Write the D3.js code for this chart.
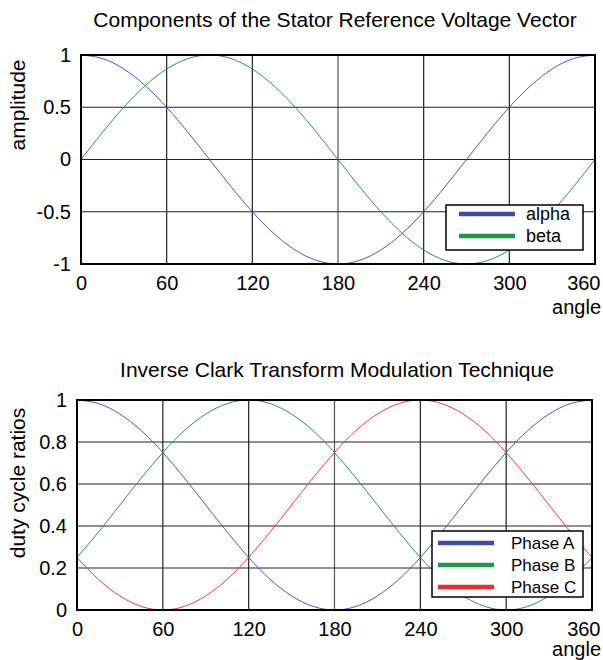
<!DOCTYPE html>
<html><head><meta charset="utf-8">
<script src="https://cdn.jsdelivr.net/npm/d3@7"></script>
<style>body{margin:0;background:#fff}svg{display:block}text{font-family:"Liberation Sans",Arial,sans-serif;fill:#000}</style>
</head><body>
<script>
const angles = [0,15,30,45,60,75,90,105,120,135,150,165,180,195,210,225,240,255,270,285,300,315,330,345,360];
const alpha = [1,0.966,0.866,0.707,0.5,0.259,0,-0.259,-0.5,-0.707,-0.866,-0.966,-1,-0.966,-0.866,-0.707,-0.5,-0.259,0,0.259,0.5,0.707,0.866,0.966,1];
const beta = [0,0.259,0.5,0.707,0.866,0.966,1,0.966,0.866,0.707,0.5,0.259,0,-0.259,-0.5,-0.707,-0.866,-0.966,-1,-0.966,-0.866,-0.707,-0.5,-0.259,0];
const phaseA = [1,0.983,0.933,0.854,0.75,0.629,0.5,0.371,0.25,0.146,0.067,0.017,0,0.017,0.067,0.146,0.25,0.371,0.5,0.629,0.75,0.854,0.933,0.983,1];
const phaseB = [0.25,0.371,0.5,0.629,0.75,0.854,0.933,0.983,1,0.983,0.933,0.854,0.75,0.629,0.5,0.371,0.25,0.146,0.067,0.017,0,0.017,0.067,0.146,0.25];
const phaseC = [0.25,0.146,0.067,0.017,0,0.017,0.067,0.146,0.25,0.371,0.5,0.629,0.75,0.854,0.933,0.983,1,0.983,0.933,0.854,0.75,0.629,0.5,0.371,0.25];
const xTicks = [0,60,120,180,240,300,360];
const yTicksTop = [-1,-0.5,0,0.5,1];
const yTicksBottom = [0,0.2,0.4,0.6,0.8,1];
const titleTop = "Components of the Stator Reference Voltage Vector";
const titleBottom = "Inverse Clark Transform Modulation Technique";
const legendTop = ["alpha","beta"];
const legendBottom = ["Phase A","Phase B","Phase C"];

const svg = d3.select("body").append("svg").attr("width",603).attr("height",660);

function panel(cfg){
  const x = d3.scaleLinear().domain([0,360]).range([cfg.left,cfg.right]);
  const y = d3.scaleLinear().domain(cfg.ydom).range([cfg.bottom,cfg.top]);
  const g = svg.append("g");
  // grid
  g.selectAll(".vg").data(xTicks.slice(1,-1)).enter().append("line")
    .attr("x1",d=>x(d)).attr("x2",d=>x(d)).attr("y1",cfg.top).attr("y2",cfg.bottom)
    .attr("stroke",d=>d===180?"#555":"#222").attr("stroke-width",1.2);
  g.selectAll(".hg").data(cfg.yticks.slice(1,-1)).enter().append("line")
    .attr("x1",cfg.left).attr("x2",cfg.right).attr("y1",d=>y(d)).attr("y2",d=>y(d))
    .attr("stroke","#222").attr("stroke-width",1.2);
  // series
  const line = d3.line().x((d,i)=>x(angles[i])).y(d=>y(d)).curve(d3.curveNatural);
  cfg.series.forEach(s=>{
    g.append("path").attr("d",line(s.values)).attr("fill","none").attr("stroke",s.color).attr("stroke-width",1);
  });
  // frame
  g.append("rect").attr("x",cfg.left).attr("y",cfg.top).attr("width",cfg.right-cfg.left).attr("height",cfg.bottom-cfg.top)
    .attr("fill","none").attr("stroke","#000").attr("stroke-width",2);
  // axes
  const ax = d3.axisBottom(x).tickValues(xTicks).tickSize(0).tickPadding(8).tickFormat(d3.format("d"));
  const xa = g.append("g").attr("transform",`translate(0,${cfg.bottom})`).call(ax);
  xa.select(".domain").remove();
  xa.selectAll("text").attr("font-size",20).attr("font-family","Liberation Sans, Arial").attr("fill","#000").attr("dy","0.9em");
  // keep last label inside the page, as in the reference
  xa.selectAll(".tick").filter(d=>d===360).select("text").attr("text-anchor","end").attr("x",600-x(360));
  const ay = d3.axisLeft(y).tickValues(cfg.yticks).tickSize(0).tickPadding(10).tickFormat(d=>String(d));
  const ya = g.append("g").attr("transform",`translate(${cfg.left},0)`).call(ay);
  ya.select(".domain").remove();
  ya.selectAll("text").attr("font-size",20).attr("font-family","Liberation Sans, Arial").attr("fill","#000");
  // title
  g.append("text").attr("x",cfg.titleX).attr("y",cfg.titleY).attr("text-anchor","middle").attr("font-size",21).text(cfg.title);
  // labels
  g.append("text").attr("x",601).attr("y",cfg.angleY).attr("text-anchor","end").attr("font-size",20).text("angle");
  g.append("text").attr("transform",`translate(25,${cfg.ylabelY}) rotate(-90)`).attr("text-anchor","middle").attr("font-size",21).text(cfg.ylabel);
  // legend
  const L = cfg.legend;
  g.append("rect").attr("x",L.x).attr("y",L.y).attr("width",L.w).attr("height",L.h).attr("fill","#fff").attr("stroke","#000").attr("stroke-width",1.5);
  L.items.forEach((name,i)=>{
    const yy = L.y0 + i*L.dy;
    g.append("line").attr("x1",L.lx1).attr("x2",L.lx2).attr("y1",yy).attr("y2",yy).attr("stroke",L.colors[i]).attr("stroke-width",4.5);
    g.append("text").attr("x",L.tx).attr("y",yy).attr("dy","0.35em").attr("font-size",L.fs).text(name);
  });
}

panel({left:81,right:595,top:55,bottom:264,ydom:[-1,1],yticks:yTicksTop,
  series:[{values:alpha,color:"#3d5cc4"},{values:beta,color:"#2a9648"}],
  title:titleTop,titleX:335,titleY:27,angleY:314,ylabel:"amplitude",ylabelY:105,
  legend:{x:446,y:205,w:137,h:45,lx1:459,lx2:515,y0:214,dy:22,tx:526,fs:18,items:legendTop,colors:["#3a4ea4","#20984a"]}});

panel({left:77,right:592,top:400,bottom:610,ydom:[0,1],yticks:yTicksBottom,
  series:[{values:phaseA,color:"#3d5cc4"},{values:phaseB,color:"#2a9648"},{values:phaseC,color:"#f03a3a"}],
  title:titleBottom,titleX:337,titleY:377,angleY:656,ylabel:"duty cycle ratios",ylabelY:483,
  legend:{x:432,y:531,w:151,h:66,lx1:438,lx2:494,y0:543,dy:22,tx:511,fs:17,items:legendBottom,colors:["#3a4ea4","#20984a","#ee2a2a"]}});
</script>
</body></html>
